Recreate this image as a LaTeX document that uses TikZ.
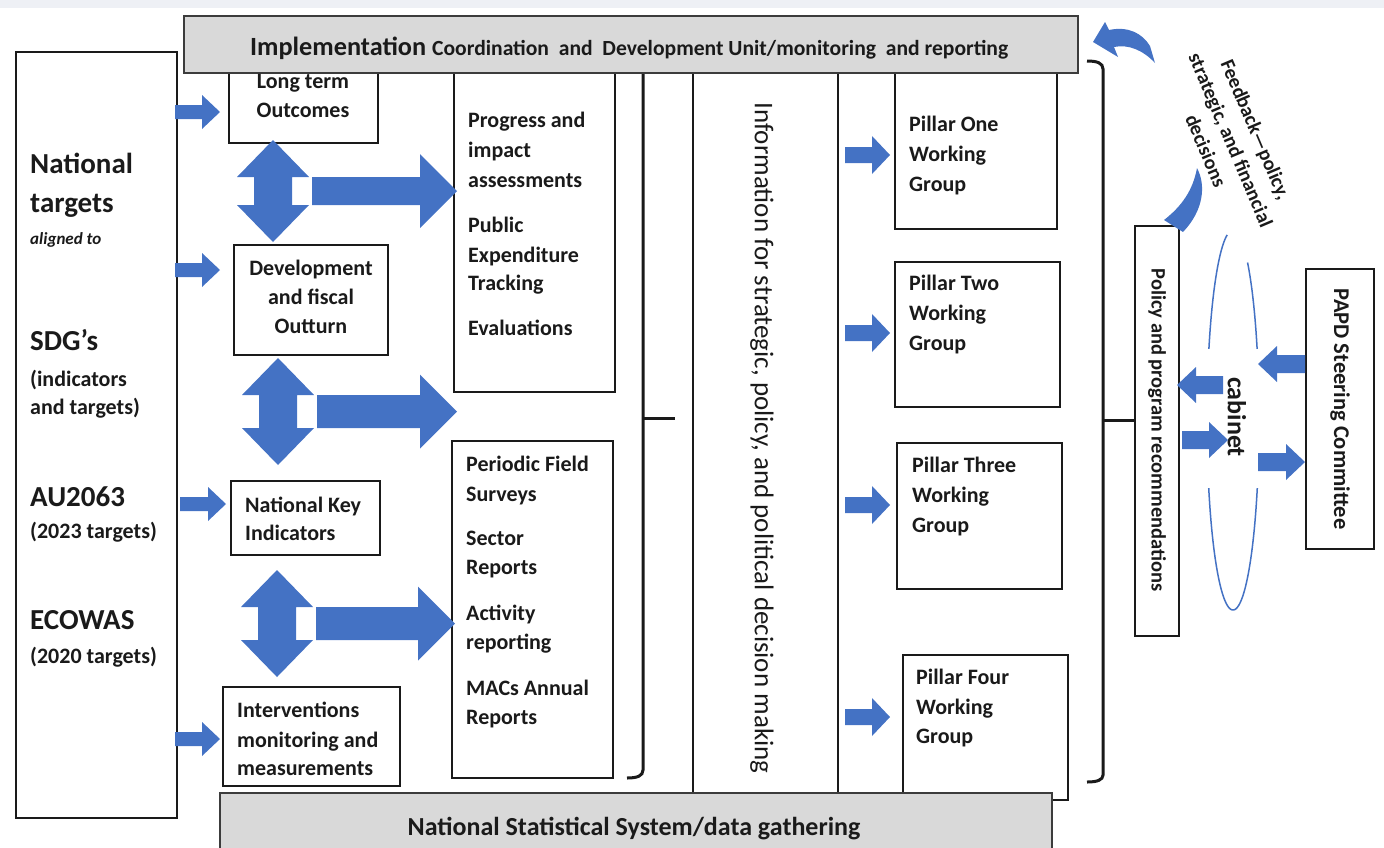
\documentclass[tikz,border=0pt]{standalone}
\usepackage{fontspec}
\setmainfont{Carlito}
\definecolor{arrblue}{HTML}{4472C4}
\definecolor{bargray}{HTML}{D9D9D9}
\definecolor{topstrip}{HTML}{EEF0F5}
\definecolor{ink}{HTML}{1A1A1A}
% block arrow: x0, x1(tip), y, shaft half, head half, head length (signed)
\newcommand\blockarrow[6]{%
 \fill[arrblue] (#1,{#3-#4}) -- ({#2-(#6)},{#3-#4}) -- ({#2-(#6)},{#3-#5}) -- (#2,#3) -- ({#2-(#6)},{#3+#5}) -- ({#2-(#6)},{#3+#4}) -- (#1,{#3+#4}) -- cycle;}
% double vertical arrow with branch: cx, top tip, bottom tip, right tip
\newcommand\dblarr[4]{%
 \fill[arrblue] (#1,#2) -- ({#1+36},{#2+37}) -- ({#1+19},{#2+37}) -- ({#1+19},{#3-37}) -- ({#1+36},{#3-37}) -- (#1,#3) -- ({#1-36},{#3-37}) -- ({#1-19},{#3-37}) -- ({#1-19},{#2+37}) -- ({#1-36},{#2+37}) -- cycle;
 \fill[arrblue] ({#1+39},{#2+37}) -- ({#4-37},{#2+37}) -- ({#4-37},{(#2+#3)/2-37}) -- (#4,{(#2+#3)/2}) -- ({#4-37},{(#2+#3)/2+37}) -- ({#4-37},{#3-37}) -- ({#1+39},{#3-37}) -- cycle;}
\newcommand\mkbox[6]{\node[#6, anchor=north west, minimum width={(#4)-(#2)}, minimum height={(#5)-(#3)}] (#1) at (#2,#3) {};}
\begin{document}
\begin{tikzpicture}[x=1pt,y=-1pt,
 box/.style={draw=ink, line width=1.4pt, fill=white, inner sep=0pt, outer sep=0pt},
 bar/.style={draw=ink!85, line width=1.4pt, fill=bargray, inner sep=0pt, outer sep=0pt},
 txt/.style={font=\fontsize{22}{30}\selectfont\bfseries, text=ink, inner sep=0pt, anchor=base west},
 ctxt/.style={txt, anchor=base},
 big/.style={txt, font=\fontsize{29}{32}\selectfont\bfseries},
 brace/.style={draw=ink, line width=3pt},
 vline/.style={draw=ink, line width=1.4pt},
 ell/.style={draw=arrblue, line width=1.5pt}]
\useasboundingbox (0,0) rectangle (1384,847);
\clip (0,0) rectangle (1384,847);
\fill[topstrip] (0,0) rectangle (1384,8);
% boxes under the top bar
\mkbox{left}{16}{52}{177}{818}{box}
\mkbox{lto}{229}{60}{378}{143}{box}
\mkbox{boxA}{454}{60}{615}{392}{box}
\mkbox{p1}{895}{60}{1057}{229}{box}
\draw[vline] (693,60) -- (693,800);
\draw[vline] (838,60) -- (838,800);
% middle brace
\draw[brace] (627,778) .. controls (637,778) and (643,776) .. (643,770) -- (643,60);
\draw[brace] (643,418) -- (675,418);
% right brace
\draw[brace] (1087,61) .. controls (1097,61) and (1103,63) .. (1103,69) -- (1103,775) .. controls (1103,780) and (1097,782) .. (1087,782);
\draw[brace] (1103,420) -- (1135,420);
% top bar
\mkbox{impl}{184}{16}{1078}{73}{bar}
\node[txt, font=\bfseries] (impltext) at (250,55) {{\fontsize{26.3}{30}\selectfont Implementation}\hspace{6pt}{\fontsize{21.6}{30}\selectfont Coordination\ \ and\ \ Development Unit/monitoring\ \ and reporting}};
% other boxes
\mkbox{dev}{234}{245}{388}{355}{box}
\mkbox{nki}{231}{481}{380}{555}{box}
\mkbox{int}{223}{687}{400}{786}{box}
\mkbox{boxB}{452}{441}{613}{778}{box}
\mkbox{p2}{895}{262}{1060}{407}{box}
\mkbox{p3}{897}{443}{1062}{589}{box}
\mkbox{p4}{903}{655}{1068}{800}{box}
\mkbox{pol}{1135}{226}{1179}{636}{box}
\mkbox{papd}{1306}{269}{1374}{549}{box}
\mkbox{nss}{220}{793}{1052}{860}{bar}
\node[ctxt, font=\fontsize{26}{30}\selectfont\bfseries] (nsstext) at (634,835) {National Statistical System/data gathering};
% left box text
\node[big] (t1) at (30,173) {National};
\node[big] (t2) at (30,212) {targets};
\node[txt, font=\fontsize{17}{20}\selectfont\bfseries\itshape] (t3) at (30,244) {aligned to};
\node[big] (t4) at (30,350) {SDG’s};
\node[txt] (t5) at (30,386) {(indicators};
\node[txt] (t6) at (30,414) {and targets)};
\node[big] (t7) at (30,506) {AU2063};
\node[txt] (t8) at (30,538) {(2023 targets)};
\node[big] (t9) at (30,629) {ECOWAS};
\node[txt] (t10) at (30,663) {(2020 targets)};
% small boxes text
\node[ctxt] (lto1) at (303,88) {Long term};
\node[ctxt] (lto2) at (303,117) {Outcomes};
\node[ctxt] (dev1) at (311,275) {Development};
\node[ctxt] (dev2) at (311,304) {and fiscal};
\node[ctxt] (dev3) at (311,333) {Outturn};
\node[txt] (nki1) at (245,512) {National Key};
\node[txt] (nki2) at (245,540) {Indicators};
\node[txt] (int1) at (237,717) {Interventions};
\node[txt] (int2) at (237,747) {monitoring and};
\node[txt] (int3) at (237,775) {measurements};
% box A
\node[txt] (a1) at (468,127) {Progress and};
\node[txt] (a2) at (468,157) {impact};
\node[txt] (a3) at (468,187) {assessments};
\node[txt] (a4) at (468,232) {Public};
\node[txt] (a5) at (468,262) {Expenditure};
\node[txt] (a6) at (468,290) {Tracking};
\node[txt] (a7) at (468,335) {Evaluations};
% box B
\node[txt] (b1) at (466,471) {Periodic Field};
\node[txt] (b2) at (466,501) {Surveys};
\node[txt] (b3) at (466,545) {Sector};
\node[txt] (b4) at (466,574) {Reports};
\node[txt] (b5) at (466,620) {Activity};
\node[txt] (b6) at (466,649) {reporting};
\node[txt] (b7) at (466,695) {MACs Annual};
\node[txt] (b8) at (466,724) {Reports};
% pillars
\node[txt] (p1a) at (909,131) {Pillar One};
\node[txt] (p1b) at (909,161) {Working};
\node[txt] (p1c) at (909,191) {Group};
\node[txt] (p2a) at (909,290) {Pillar Two};
\node[txt] (p2b) at (909,320) {Working};
\node[txt] (p2c) at (909,350) {Group};
\node[txt] (p3a) at (912,472) {Pillar Three};
\node[txt] (p3b) at (912,502) {Working};
\node[txt] (p3c) at (912,532) {Group};
\node[txt] (p4a) at (916,684) {Pillar Four};
\node[txt] (p4b) at (916,714) {Working};
\node[txt] (p4c) at (916,743) {Group};
% rotated texts
\node[font=\fontsize{27}{30}\selectfont, text=ink, rotate=-90, inner sep=0pt] (info) at (762,438) {Information for strategic, policy, and political decision making};
\node[font=\fontsize{20.5}{24}\selectfont\bfseries, text=ink, rotate=-90, inner sep=0pt] (poltext) at (1157,430) {Policy and program recommendations};
\node[font=\fontsize{22.5}{26}\selectfont\bfseries, text=ink, rotate=-90, inner sep=0pt] (papdtext) at (1340,409) {PAPD Steering Committee};
\node[font=\fontsize{26}{30}\selectfont\bfseries, text=ink, rotate=-90, inner sep=0pt] (cabinet) at (1237,417) {cabinet};
\node[font=\fontsize{20}{27}\selectfont\bfseries, text=ink, rotate=-67, inner sep=0pt, align=center] (feedback) at (1231,140) {Feedback—policy,\\strategic, and financial\\decisions};
% ellipse around cabinet (broken)
\draw[ell] plot[domain=103:158, samples=40] ({1233+26*cos(\x)},{420-190*sin(\x)});
\draw[ell] plot[domain=201:339, samples=80] ({1233+26*cos(\x)},{420-190*sin(\x)});
\draw[ell] plot[domain=22:56, samples=30] ({1233+26*cos(\x)},{420-190*sin(\x)});
% block arrows left
\blockarrow{175}{220}{112}{7}{17}{18}
\blockarrow{175}{220}{270}{7}{17}{18}
\blockarrow{180}{226}{504}{7}{17}{18}
\blockarrow{175}{220}{739}{7}{17}{18}
% pillar arrows
\blockarrow{845}{890}{155}{8}{19}{18}
\blockarrow{845}{890}{333}{8}{19}{18}
\blockarrow{845}{890}{505}{8}{19}{18}
\blockarrow{845}{890}{717}{8}{19}{18}
% cabinet arrows
\blockarrow{1305}{1258}{364}{9}{18}{-19}
\blockarrow{1223}{1177}{385}{9}{18}{-19}
\blockarrow{1182}{1228}{440}{9}{18}{19}
\blockarrow{1258}{1305}{462}{9}{18}{19}
% double arrows
\dblarr{273}{140}{242}{457}
\dblarr{278}{358}{465}{457}
\dblarr{277}{570}{677}{455}
% curved arrows
\fill[arrblue] (1093,42) -- (1105,22) -- (1109,30) .. controls (1128,26) and (1142,33) .. (1150,46) -- (1155,63) .. controls (1143,50) and (1128,44) .. (1114,47) -- (1118,57) -- cycle;
\fill[arrblue] (1197,168) .. controls (1206,185) and (1204,210) .. (1183,232) -- (1164,220) .. controls (1182,206) and (1193,190) .. (1197,168) -- cycle;
\end{tikzpicture}
\end{document}
